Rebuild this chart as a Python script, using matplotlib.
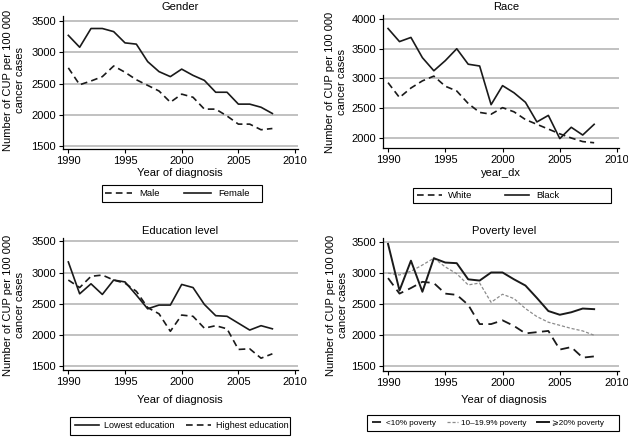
import matplotlib
matplotlib.use("Agg")
import matplotlib.pyplot as plt
from matplotlib.lines import Line2D
from matplotlib.patches import Rectangle

plt.rcParams['font.family'] = ['Liberation Sans', 'DejaVu Sans']

years = list(range(1990, 2009))

male = [2750, 2480, 2540, 2610, 2780, 2680, 2560, 2470, 2380, 2200, 2330, 2280, 2090, 2090, 1980, 1850, 1850, 1760, 1780]
female = [3270, 3080, 3380, 3380, 3330, 3150, 3130, 2850, 2690, 2610, 2730, 2630, 2550, 2360, 2360, 2170, 2170, 2120, 2020]

white = [2930, 2680, 2840, 2960, 3040, 2870, 2790, 2580, 2430, 2400, 2510, 2440, 2310, 2230, 2150, 2070, 2000, 1940, 1920]
black = [3840, 3620, 3690, 3350, 3130, 3300, 3500, 3240, 3210, 2560, 2880, 2760, 2600, 2270, 2380, 1990, 2180, 2050, 2230]

edu_low = [3170, 2660, 2820, 2650, 2880, 2850, 2640, 2420, 2480, 2480, 2810, 2760, 2490, 2310, 2300, 2190, 2080, 2150, 2100]
edu_high = [2880, 2760, 2940, 2960, 2880, 2830, 2700, 2440, 2340, 2060, 2320, 2300, 2110, 2150, 2100, 1770, 1780, 1630, 1700]

pov_lt10 = [2920, 2670, 2760, 2860, 2840, 2670, 2650, 2490, 2180, 2180, 2240, 2150, 2030, 2050, 2070, 1770, 1810, 1640, 1660]
pov_10_20 = [3000, 2970, 3030, 3130, 3240, 3100, 2990, 2810, 2840, 2530, 2660, 2590, 2430, 2300, 2210, 2160, 2110, 2070, 2000]
pov_ge20 = [3470, 2720, 3200, 2700, 3240, 3170, 3160, 2900, 2880, 3010, 3010, 2900, 2800, 2600, 2390, 2330, 2370, 2430, 2420]

W, H = 628, 437
fig = plt.figure(figsize=(W / 100, H / 100), dpi=100)
fig.patch.set_facecolor('white')

ylab = "Number of CUP per 100 000\ncancer cases"
FS = 8
xticks = [1990, 1995, 2000, 2005, 2010]


def make_ax(l, t, r, b, xlim, ylim, yticks):
    ax = fig.add_axes([l / W, 1 - b / H, (r - l) / W, (b - t) / H])
    ax.set_xlim(*xlim)
    ax.set_ylim(*ylim)
    ax.set_xticks(xticks)
    ax.set_yticks(yticks)
    for s in ['top', 'right']:
        ax.spines[s].set_visible(False)
    for s in ['left', 'bottom']:
        ax.spines[s].set_linewidth(0.9)
        ax.spines[s].set_color('black')
    ax.tick_params(direction='out', length=3, width=0.8, labelsize=FS, pad=2)
    for yv in yticks:
        ax.axhline(yv, color='#bcbcbc', lw=1.3, zorder=0)
    return ax


def fig_text(x, y, s, **kw):
    fig.text(x / W, 1 - y / H, s, ha='center', va='center', fontsize=FS, **kw)


def legend(handles, labels, box, start_x, fs, hl, htp, cs):
    l, t, r, b = box
    fig.add_artist(Rectangle((l / W, 1 - b / H), (r - l) / W, (b - t) / H,
                             transform=fig.transFigure, fill=False, ec='black', lw=0.8))
    fig.legend(handles, labels, loc='center left', ncol=len(labels),
               bbox_to_anchor=(start_x / W, 1 - (t + b) / 2 / H),
               frameon=False, borderpad=0, borderaxespad=0,
               handlelength=hl, handletextpad=htp, columnspacing=cs,
               prop={'family': ['Liberation Sans', 'DejaVu Sans'], 'size': fs})


solid = dict(color='#1a1a1a', lw=1.2, ls='-')
dashed = dict(color='#1a1a1a', lw=1.2, ls=(0, (4, 2.5)))

# Panel 1: Gender
ax1 = make_ax(63, 16, 298, 149, (1989.53, 2010.26), (1452, 3580), [1500, 2000, 2500, 3000, 3500])
ax1.plot(years, male, **dashed)
ax1.plot(years, female, **solid)
fig_text(180, 7, "Gender")
fig_text(180, 173, "Year of diagnosis")
fig_text(14, 80, ylab, rotation=90, linespacing=1.3)
legend([Line2D([], [], **dashed), Line2D([], [], **solid)], ["Male", "Female"],
       (102, 185, 262, 202), 105, 6.8, 2.9, 0.7, 2.6)

# Panel 2: Race
ax2 = make_ax(383, 15, 619, 148, (1989.56, 2010.17), (1832, 4067), [2000, 2500, 3000, 3500, 4000])
ax2.plot(years, white, **dashed)
ax2.plot(years, black, **solid)
fig_text(506, 7, "Race")
fig_text(501, 173, "year_dx")
fig_text(336, 82, ylab, rotation=90, linespacing=1.3)
legend([Line2D([], [], **dashed), Line2D([], [], **solid)], ["White", "Black"],
       (413, 188, 611, 203), 417, 6.8, 2.6, 0.7, 3.4)

# Panel 3: Education
ax3 = make_ax(63, 238, 298, 370, (1989.53, 2010.26), (1441, 3553), [1500, 2000, 2500, 3000, 3500])
ax3.plot(years, edu_low, **solid)
ax3.plot(years, edu_high, **dashed)
fig_text(180, 231, "Education level")
fig_text(180, 400, "Year of diagnosis")
fig_text(14, 305, ylab, rotation=90, linespacing=1.3)
legend([Line2D([], [], **solid), Line2D([], [], **dashed)], ["Lowest education", "Highest education"],
       (70, 417, 290, 435), 75, 6.5, 2.7, 0.55, 1.3)

# Panel 4: Poverty
dash_lt10 = dict(color='#1a1a1a', lw=1.3, ls=(0, (5, 3)))
dot_mid = dict(color='#8c8c8c', lw=0.9, ls=(0, (2.5, 1.5)))
solid_hi = dict(color='#1a1a1a', lw=1.4, ls='-')
ax4 = make_ax(383, 238, 619, 371, (1989.56, 2010.17), (1425, 3565), [1500, 2000, 2500, 3000, 3500])
ax4.plot(years, pov_lt10, **dash_lt10)
ax4.plot(years, pov_10_20, **dot_mid)
ax4.plot(years, pov_ge20, **solid_hi)
fig_text(504, 231, "Poverty level")
fig_text(504, 400, "Year of diagnosis")
fig_text(337, 305, ylab, rotation=90, linespacing=1.3)
legend([Line2D([], [], **dash_lt10), Line2D([], [], **dot_mid), Line2D([], [], **solid_hi)],
       ["<10% poverty", "10\u201319.9% poverty", "\u2a7e20% poverty"],
       (367, 415, 619, 431), 372, 5.9, 1.4, 0.35, 1.3)

fig.savefig("out.png", dpi=100)
